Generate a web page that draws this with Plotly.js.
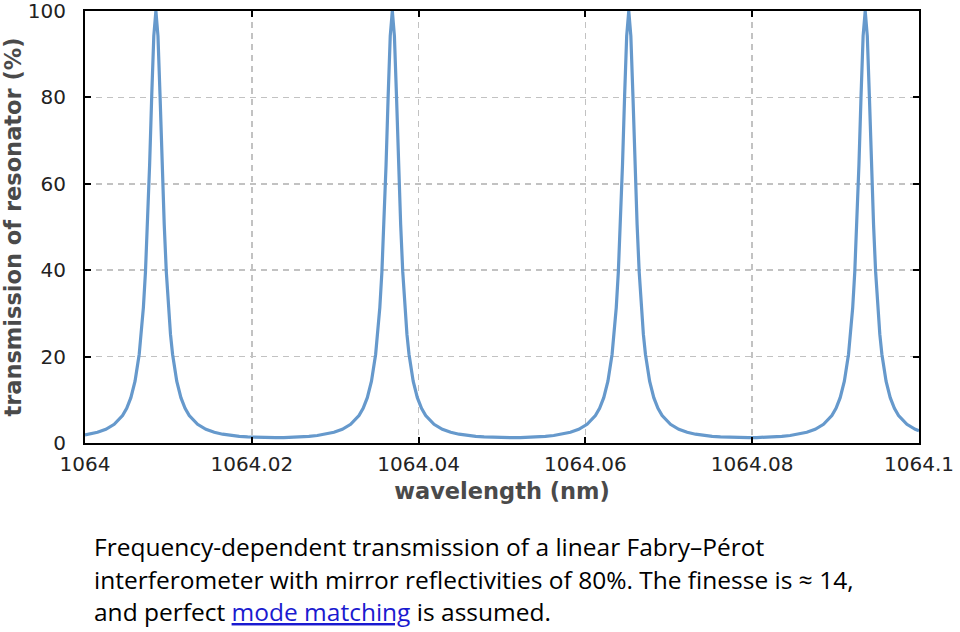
<!DOCTYPE html>
<html>
<head>
<meta charset="utf-8">
<script src="https://cdn.plot.ly/plotly-3.0.1.min.js"></script>
<style>html,body{margin:0;padding:0;background:#fff;}#chart{width:960px;height:632px;}</style>
</head>
<body>
<div id="chart"></div>
<script>
// wavelength samples (nm)
const wavelength = [
  1064.0000, 1064.0005, 1064.0015, 1064.0025, 1064.0035, 1064.0045, 1064.005, 1064.0055, 1064.006, 1064.0065,
  1064.00675, 1064.007, 1064.00725, 1064.0075, 1064.00775, 1064.008, 1064.00825, 1064.0085, 1064.00875, 1064.009,
  1064.00925, 1064.0095, 1064.00975, 1064.01, 1064.01025, 1064.0105, 1064.011, 1064.0115, 1064.012, 1064.0125,
  1064.0135, 1064.0145, 1064.0155, 1064.0165, 1064.0175, 1064.0185, 1064.0195, 1064.0205, 1064.0215, 1064.0225,
  1064.02285, 1064.02385, 1064.02485, 1064.02585, 1064.02685, 1064.02785, 1064.02885, 1064.02985, 1064.03085, 1064.03185,
  1064.03285, 1064.03335, 1064.03385, 1064.03435, 1064.03485, 1064.0351, 1064.03535, 1064.0356, 1064.03585, 1064.0361,
  1064.03635, 1064.0366, 1064.03685, 1064.0371, 1064.03735, 1064.0376, 1064.03785, 1064.0381, 1064.03835, 1064.0386,
  1064.03885, 1064.03935, 1064.03985, 1064.04035, 1064.04085, 1064.04185, 1064.04285, 1064.04385, 1064.04485, 1064.04585,
  1064.04685, 1064.04785, 1064.04885, 1064.04985, 1064.05085,
  1064.0512, 1064.0522, 1064.0532, 1064.0542, 1064.0552, 1064.0562, 1064.0572, 1064.0582, 1064.0592, 1064.0602,
  1064.0612, 1064.0617, 1064.0622, 1064.0627, 1064.0632, 1064.06345, 1064.0637, 1064.06395, 1064.0642, 1064.06445,
  1064.0647, 1064.06495, 1064.0652, 1064.06545, 1064.0657, 1064.06595, 1064.0662, 1064.06645, 1064.0667, 1064.06695,
  1064.0672, 1064.0677, 1064.0682, 1064.0687, 1064.0692, 1064.0702, 1064.0712, 1064.0722, 1064.0732, 1064.0742,
  1064.0752, 1064.0762, 1064.0772, 1064.0782, 1064.0792,
  1064.07955, 1064.08055, 1064.08155, 1064.08255, 1064.08355, 1064.08455, 1064.08555, 1064.08655, 1064.08755, 1064.08855,
  1064.08955, 1064.09005, 1064.09055, 1064.09105, 1064.09155, 1064.0918, 1064.09205, 1064.0923, 1064.09255, 1064.0928,
  1064.09305, 1064.0933, 1064.09355, 1064.0938, 1064.09405, 1064.0943, 1064.09455, 1064.0948, 1064.09505, 1064.0953,
  1064.09555, 1064.09605, 1064.09655, 1064.09705, 1064.09755, 1064.09855, 1064.09955, 1064.1
];
// transmission of resonator (%)
const transmission = [
  1.88, 2.04, 2.49, 3.18, 4.32, 6.36, 8.04, 10.50, 14.32, 20.55,
  25.18, 31.35, 39.60, 50.55, 64.46, 80.30, 94.22, 100, 94.22, 80.30,
  64.46, 50.55, 39.60, 31.35, 25.18, 20.55, 14.32, 10.50, 8.04, 6.36,
  4.32, 3.18, 2.49, 2.04, 1.74, 1.54, 1.40, 1.31, 1.26, 1.24,
  1.24, 1.26, 1.31, 1.40, 1.54, 1.74, 2.04, 2.49, 3.18, 4.32,
  6.36, 8.04, 10.50, 14.32, 20.55, 25.18, 31.35, 39.60, 50.55, 64.46,
  80.30, 94.22, 100, 94.22, 80.30, 64.46, 50.55, 39.60, 31.35, 25.18,
  20.55, 14.32, 10.50, 8.04, 6.36, 4.32, 3.18, 2.49, 2.04, 1.74,
  1.54, 1.40, 1.31, 1.26, 1.24,
  1.24, 1.26, 1.31, 1.40, 1.54, 1.74, 2.04, 2.49, 3.18, 4.32,
  6.36, 8.04, 10.50, 14.32, 20.55, 25.18, 31.35, 39.60, 50.55, 64.46,
  80.30, 94.22, 100, 94.22, 80.30, 64.46, 50.55, 39.60, 31.35, 25.18,
  20.55, 14.32, 10.50, 8.04, 6.36, 4.32, 3.18, 2.49, 2.04, 1.74,
  1.54, 1.40, 1.31, 1.26, 1.24,
  1.24, 1.26, 1.31, 1.40, 1.54, 1.74, 2.04, 2.49, 3.18, 4.32,
  6.36, 8.04, 10.50, 14.32, 20.55, 25.18, 31.35, 39.60, 50.55, 64.46,
  80.30, 94.22, 100, 94.22, 80.30, 64.46, 50.55, 39.60, 31.35, 25.18,
  20.55, 14.32, 10.50, 8.04, 6.36, 4.32, 3.18, 2.83
];
const xTickValues = [1064, 1064.02, 1064.04, 1064.06, 1064.08, 1064.1];
const xTickLabels = ['1064', '1064.02', '1064.04', '1064.06', '1064.08', '1064.1'];
const yTickValues = [0, 20, 40, 60, 80, 100];
const yTickLabels = ['0', '20', '40', '60', '80', '100'];
const xTitle = 'wavelength (nm)';
const yTitle = 'transmission of resonator (%)';
const captionLines = [
  'Frequency-dependent transmission of a linear Fabry–Pérot',
  'interferometer with mirror reflectivities of 80%. The finesse is ≈ 14,',
  'and perfect <span style="color:#1a1ad0;text-decoration:underline">mode matching</span> is assumed.'
];

const axisCommon = {
  showline: true, linecolor: '#000', linewidth: 2, mirror: 'ticks',
  ticks: 'inside', ticklen: 6, tickwidth: 2, tickcolor: '#000',
  showgrid: true, gridcolor: '#c2c2c2', gridwidth: 1.5, griddash: '6px,5px',
  zeroline: false, fixedrange: true, ticklabeloverflow: 'allow',
  tickfont: {family: 'DejaVu Sans, Verdana, sans-serif', size: 20, color: '#222'}
};

const trace = {
  x: wavelength, y: transmission, type: 'scatter', mode: 'lines',
  line: {color: '#6699cc', width: 3.2}, hoverinfo: 'skip', showlegend: false
};

const captionY = [-0.2407, -0.3171, -0.3912];
const annotations = captionLines.map((t, i) => ({
  text: t, xref: 'paper', yref: 'paper', x: 0.008, y: captionY[i],
  xanchor: 'left', yanchor: 'middle', showarrow: false, align: 'left',
  font: {family: 'Open Sans, Lato, sans-serif', size: 24.5, color: '#000'}
}));

const titleFont = {family: 'DejaVu Sans, Verdana, sans-serif', size: 22.5, color: '#4a4a4a', weight: 'bold'};

const layout = {
  width: 960, height: 632,
  margin: {l: 85, r: 41, t: 11, b: 189},
  paper_bgcolor: '#fff', plot_bgcolor: '#fff',
  showlegend: false,
  xaxis: Object.assign({}, axisCommon, {
    range: [1064, 1064.1], tickmode: 'array', tickvals: xTickValues, ticktext: xTickLabels,
    ticklabelstandoff: 2,
    title: {text: xTitle, standoff: 8, font: titleFont}
  }),
  yaxis: Object.assign({}, axisCommon, {
    range: [0, 100], tickmode: 'array', tickvals: yTickValues, ticktext: yTickLabels,
    ticklabelstandoff: 13,
    title: {text: yTitle, standoff: 10, font: titleFont}
  }),
  annotations: annotations
};

Plotly.newPlot('chart', [trace], layout, {staticPlot: true, displayModeBar: false});
</script>
</body>
</html>
